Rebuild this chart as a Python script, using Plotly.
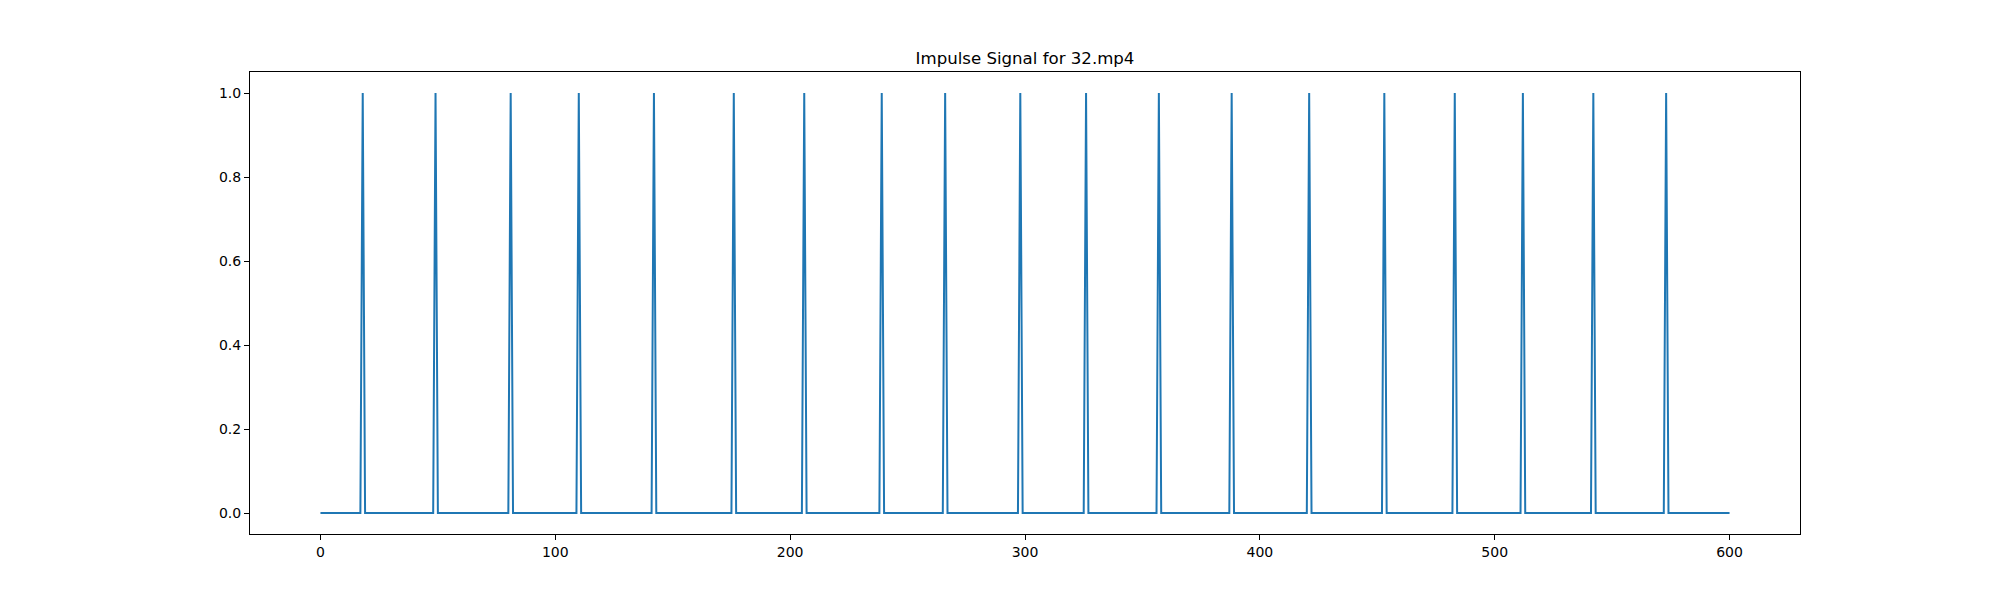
import numpy as np
import plotly.graph_objects as go

# Frame indices where the impulse equals 1
peak_frames = [18, 49, 81, 110, 142, 176, 206, 239, 266, 298, 326, 357,
               388, 421, 453, 483, 512, 542, 573]
n_frames = 601
x_tick_vals = [0, 100, 200, 300, 400, 500, 600]
y_tick_vals = [0.0, 0.2, 0.4, 0.6, 0.8, 1.0]
y_tick_text = ["0.0", "0.2", "0.4", "0.6", "0.8", "1.0"]

frames = np.arange(n_frames)
signal = np.zeros(n_frames)
signal[peak_frames] = 1.0

fig = go.Figure()
fig.add_trace(go.Scatter(x=frames, y=signal, mode="lines",
                         line=dict(color="#1f77b4", width=2)))

axis_common = dict(showgrid=False, zeroline=False, showline=True, mirror=True,
                   linecolor="black", linewidth=1, ticks="outside", ticklen=5,
                   tickwidth=1, tickcolor="black",
                   tickfont=dict(family="DejaVu Sans", size=14, color="black"))

fig.update_layout(
    width=2000, height=600,
    margin=dict(l=242, r=208, t=64, b=74),
    paper_bgcolor="white", plot_bgcolor="white",
    showlegend=False,
    title=dict(text="Impulse Signal for 32.mp4", x=0.5, xref="paper",
               y=1 - 50 / 600, yref="container", yanchor="middle", xanchor="center",
               font=dict(family="DejaVu Sans", size=16.6, color="black")),
    xaxis=dict(range=[-30, 630], tickvals=x_tick_vals, **axis_common),
    yaxis=dict(range=[-0.05, 1.05], tickvals=y_tick_vals, ticktext=y_tick_text,
               **axis_common),
)

fig.write_html("out.html")
